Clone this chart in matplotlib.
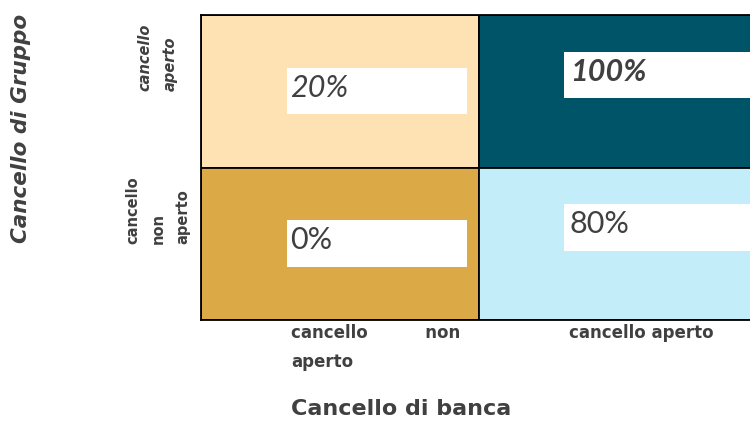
import matplotlib
matplotlib.use("Agg")
import matplotlib.pyplot as plt
from matplotlib.patches import Rectangle
from matplotlib.transforms import ScaledTranslation

plt.rcParams['font.family'] = ['DejaVu Sans']

col_labels = ["cancello          non\naperto", "cancello aperto"]
row_labels = ["cancello\naperto", "cancello\nnon\naperto"]
values = [[20, 100], [0, 80]]
cell_colors = [["#FEE2B3", "#005467"], ["#DBA945", "#C3EEF9"]]
value_styles = [[("italic", "normal"), ("italic", "bold")],
                [("normal", "normal"), ("normal", "normal")]]
row_label_styles = ["italic", "normal"]
x_title = "Cancello di banca"
y_title = "Cancello di Gruppo"
text_color = "#404040"

fig = plt.figure(figsize=(7.5, 4.21), dpi=100)
W, H = 750, 421
left, right, top, bottom = 201, 757, 15, 320
ax = fig.add_axes([left / W, 1 - bottom / H, (right - left) / W, (bottom - top) / H])
ax.set_xlim(0, 2)
ax.set_ylim(2, 0)

for i in range(2):
    for j in range(2):
        ax.add_patch(Rectangle((j, i), 1, 1, facecolor=cell_colors[i][j],
                               edgecolor="black", linewidth=1.3))
        if j == 0:
            bx, by, bw, bh = j + 0.31, i + 0.345, 0.647, 0.305
        else:
            bx, by, bw, bh = j + 0.306, i + 0.24, 0.75, 0.305
        ax.add_patch(Rectangle((bx, by), bw, bh, facecolor="white", edgecolor="none"))
        st, wt = value_styles[i][j]
        pad = 0.012 if j == 0 else 0.02
        ax.text(bx + pad, by + bh / 2 - 0.02, f"{values[i][j]}%", fontsize=22,
                family=["Lato", "DejaVu Sans"], style=st, fontweight=wt,
                color=text_color, ha="left", va="center")

for s in ax.spines.values():
    s.set_linewidth(1.3)
    s.set_color("black")

ax.set_xticks([0.5, 1.5])
ax.set_xticklabels(col_labels, fontsize=12, fontweight="bold", color=text_color,
                   linespacing=1.8, ha="left", multialignment="left")
ax.tick_params(axis="x", length=0, pad=3)
shift = ScaledTranslation(-0.49, 0, fig.dpi_scale_trans)
for lab in ax.get_xticklabels():
    lab.set_transform(lab.get_transform() + shift)

ax.set_yticks([0.5, 1.5])
ax.set_yticklabels(row_labels, fontsize=10.5, fontweight="bold", color=text_color,
                   rotation=90, va="bottom", ha="center", multialignment="left",
                   linespacing=1.85)
ax.tick_params(axis="y", length=0, pad=31)
for lab, st in zip(ax.get_yticklabels(), row_label_styles):
    lab.set_style(st)

fig.text(401 / W, 1 - 409 / H, x_title, fontsize=16, fontweight="bold",
         color=text_color, ha="center", va="center")
fig.text(21 / W, 1 - 128 / H, y_title, fontsize=15.5, fontweight="bold",
         style="italic", color=text_color, ha="center", va="center", rotation=90)

fig.savefig("out.png", dpi=100, facecolor="white")
